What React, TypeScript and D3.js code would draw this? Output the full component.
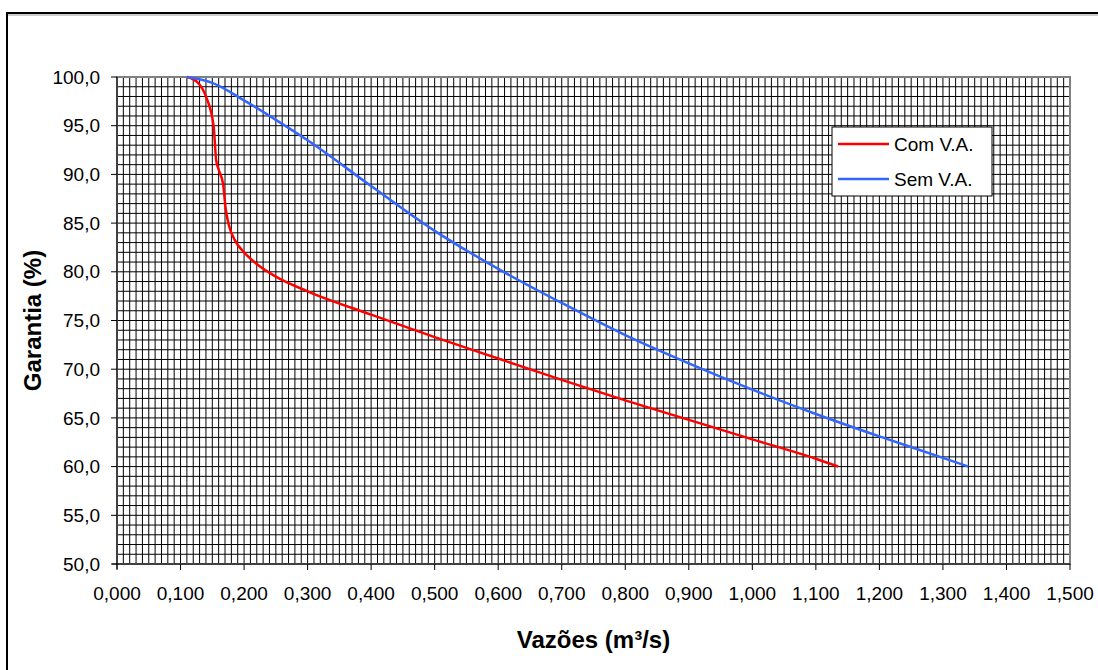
import React from "react";
import * as d3 from "d3";

const xTicks = [0, 0.1, 0.2, 0.3, 0.4, 0.5, 0.6, 0.7, 0.8, 0.9, 1.0, 1.1, 1.2, 1.3, 1.4, 1.5];
const yTicks = [50, 55, 60, 65, 70, 75, 80, 85, 90, 95, 100];

const comVA_x = [0.11, 0.126, 0.14, 0.152, 0.156, 0.16, 0.167, 0.171, 0.176, 0.185, 0.2, 0.22, 0.25, 0.3, 0.4, 0.5, 0.6, 0.7, 0.8, 0.9, 1.0, 1.1, 1.135];
const comVA_y = [100, 99.5, 98, 95, 91.5, 90.5, 89, 86.5, 84.8, 83.3, 82, 80.8, 79.5, 78.0, 75.6, 73.3, 71.1, 68.9, 66.8, 64.8, 62.8, 60.8, 60];

const semVA_x = [0.11, 0.15, 0.2, 0.25, 0.3, 0.4, 0.5, 0.6, 0.7, 0.8, 0.9, 1.0, 1.1, 1.2, 1.3, 1.34];
const semVA_y = [100, 99.4, 97.6, 95.6, 93.5, 88.8, 84.2, 80.3, 76.8, 73.5, 70.6, 67.9, 65.4, 63.1, 60.9, 60];

const seriesNames = ["Com V.A.", "Sem V.A."];
const seriesColors = ["#FF0000", "#3366FF"];

const fmtX = (v: number) => v.toFixed(3).replace(".", ",");
const fmtY = (v: number) => v.toFixed(1).replace(".", ",");

export default function App() {
  const W = 1098, H = 670;
  const L = 117, R = 1070, T = 77, B = 564;
  const x = d3.scaleLinear().domain([0, 1.5]).range([L, R]);
  const y = d3.scaleLinear().domain([50, 100]).range([B, T]);
  const line = d3.line<[number, number]>().x(d => x(d[0])).y(d => y(d[1])).curve(d3.curveMonotoneX);
  const com = comVA_x.map((v, i) => [v, comVA_y[i]] as [number, number]);
  const sem = semVA_x.map((v, i) => [v, semVA_y[i]] as [number, number]);
  const vMinor = d3.range(1, 150).map(i => i / 100);
  const hMinor = d3.range(51, 100);
  const font = "Arial, 'Liberation Sans', sans-serif";
  return (
    <svg width={W} height={H} style={{ position: "absolute", left: 0, top: 0, background: "#fff" }} fontFamily={font}>
      <rect x={7} y={13} width={W} height={H} fill="none" stroke="#000" strokeWidth={2} />
      <line x1={8} y1={15} x2={W} y2={15} stroke="#999" strokeWidth={1} />
      <g>
        {vMinor.map((v, i) => (
          <line key={"v" + i} x1={x(v)} x2={x(v)} y1={T} y2={B} stroke="#000" strokeWidth={1} />
        ))}
        {hMinor.map((v, i) => (
          <line key={"h" + i} x1={L} x2={R} y1={y(v)} y2={y(v)} stroke="#000" strokeWidth={1} />
        ))}
      </g>
      <rect x={L} y={T} width={R - L} height={B - T} fill="none" stroke="#808080" strokeWidth={2} />
      <line x1={L} x2={L} y1={T} y2={B + 5} stroke="#000" strokeWidth={1} />
      <line x1={L - 5} x2={R} y1={B} y2={B} stroke="#000" strokeWidth={1} />
      {yTicks.map(t => (
        <g key={"yt" + t}>
          <line x1={L - 6} x2={L} y1={y(t)} y2={y(t)} stroke="#000" />
          <text x={100} y={y(t)} dy="0.35em" textAnchor="end" fontSize={19}>{fmtY(t)}</text>
        </g>
      ))}
      {xTicks.map(t => (
        <g key={"xt" + t}>
          <line x1={x(t)} x2={x(t)} y1={B} y2={B + 6} stroke="#000" />
          <text x={x(t)} y={B + 36} textAnchor="middle" fontSize={19}>{fmtX(t)}</text>
        </g>
      ))}
      <path d={line(com) || ""} fill="none" stroke={seriesColors[0]} strokeWidth={2.5} />
      <path d={line(sem) || ""} fill="none" stroke={seriesColors[1]} strokeWidth={2.5} />
      <text x={(L + R) / 2} y={648} textAnchor="middle" fontSize={24} fontWeight="bold">Vazões (m³/s)</text>
      <text transform={`translate(41, ${(T + B) / 2}) rotate(-90)`} textAnchor="middle" fontSize={24} fontWeight="bold">Garantia (%)</text>
      <g>
        <rect x={832} y={127} width={160} height={69} fill="#fff" stroke="#000" strokeWidth={1} />
        {seriesNames.map((n, i) => (
          <g key={n}>
            <line x1={838} x2={889} y1={144 + i * 35} y2={144 + i * 35} stroke={seriesColors[i]} strokeWidth={2.5} />
            <text x={894} y={144 + i * 35} dy="0.35em" fontSize={19}>{n}</text>
          </g>
        ))}
      </g>
    </svg>
  );
}
